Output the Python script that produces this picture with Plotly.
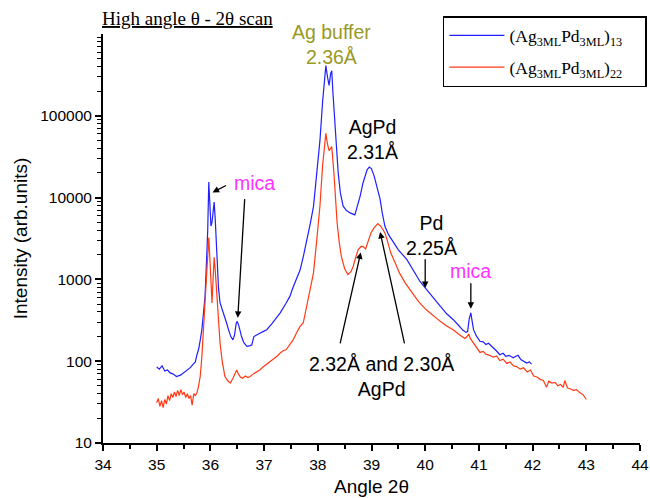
import math
import plotly.graph_objects as go

# ---- data ----
blue_x = [35.00, 35.05, 35.10, 35.15, 35.20, 35.25, 35.30, 35.37, 35.45, 35.52, 35.57, 35.63, 35.68,
          35.72, 35.75, 35.78, 35.81, 35.84, 35.87, 35.90, 35.93, 35.95, 35.97, 35.99, 36.01, 36.03,
          36.05, 36.07, 36.09, 36.12, 36.15, 36.18, 36.21, 36.24, 36.27, 36.30, 36.34, 36.38, 36.42,
          36.45, 36.48, 36.50, 36.53, 36.56, 36.58, 36.62, 36.68, 36.74, 36.77, 36.81, 36.86, 36.92,
          36.98, 37.05, 37.15, 37.30, 37.40, 37.48, 37.54, 37.60, 37.67, 37.73, 37.80, 37.86, 37.92,
          37.98, 38.04, 38.09, 38.13, 38.15, 38.18, 38.21, 38.24, 38.26, 38.28, 38.32, 38.35, 38.38,
          38.42, 38.47, 38.53, 38.60, 38.69, 38.74, 38.79, 38.84, 38.88, 38.92, 38.96, 39.00, 39.05,
          39.10, 39.16, 39.20, 39.25, 39.32, 39.41, 39.50, 39.66, 39.80, 39.90, 40.00, 40.10, 40.20,
          40.28, 40.40, 40.52, 40.62, 40.70, 40.76, 40.79, 40.82, 40.85, 40.87, 40.90, 40.95, 41.02,
          41.08, 41.13, 41.18, 41.22, 41.27, 41.32, 41.39, 41.45, 41.50, 41.56, 41.64, 41.69, 41.73,
          41.78, 41.84, 41.89, 41.94, 41.98]
blue_y = [85, 80, 88, 76, 78, 72, 70, 65, 68, 74, 78, 84, 92,
          98, 120, 140, 180, 240, 380, 620, 1800, 4000, 15500, 9000, 4500, 5000,
          7500, 8800, 5500, 1600, 800, 515, 440, 405, 340, 295, 240, 200, 182,
          210, 290, 307, 270, 220, 200, 170, 152, 155, 158, 200, 210, 220,
          230, 243, 290, 390, 500, 620, 800, 1000, 1300, 1900, 3000, 4800, 7800,
          18000, 50000, 150000, 350000, 410000, 300000, 235000, 330000, 355000, 200000, 83000, 40000, 20000,
          11500, 7900, 7000, 6500, 6150, 8000, 10500, 15000, 18300, 22000, 23600, 22500, 18300,
          13500, 9600, 6500, 4450, 3500, 2800, 2300, 1740, 1250, 950, 790, 650, 540,
          470, 380, 324, 275, 240, 225, 230, 330, 390, 320, 243, 205, 175,
          172, 160, 166, 155, 145, 135, 120, 125, 115, 118, 110, 115, 118,
          105, 100, 95, 98, 92]

red_x = [35.00, 35.03, 35.06, 35.09, 35.12, 35.15, 35.18, 35.21, 35.24, 35.27, 35.30, 35.33, 35.36,
         35.39, 35.42, 35.45, 35.48, 35.51, 35.54, 35.57, 35.60, 35.63, 35.66, 35.69, 35.72, 35.75,
         35.78, 35.81, 35.84, 35.87, 35.90, 35.92, 35.95, 35.97, 35.99, 36.01, 36.03, 36.05, 36.07,
         36.09, 36.12, 36.15, 36.18, 36.22, 36.27, 36.32, 36.37, 36.42, 36.46, 36.49, 36.52, 36.56,
         36.60, 36.65, 36.70, 36.74, 36.80, 36.86, 36.92, 36.98, 37.05, 37.12, 37.17, 37.24, 37.30,
         37.36, 37.41, 37.48, 37.54, 37.60, 37.67, 37.73, 37.80, 37.86, 37.92, 37.98, 38.04, 38.09,
         38.13, 38.15, 38.18, 38.21, 38.24, 38.26, 38.30, 38.33, 38.36, 38.40, 38.44, 38.50, 38.56,
         38.62, 38.66, 38.71, 38.75, 38.81, 38.85, 38.89, 38.94, 38.99, 39.05, 39.12, 39.18, 39.25,
         39.30, 39.36, 39.44, 39.52, 39.63, 39.76, 39.88, 40.02, 40.15, 40.28, 40.40, 40.52, 40.62,
         40.74, 40.78, 40.81, 40.84, 40.90, 40.96, 41.02, 41.08, 41.13, 41.20, 41.27, 41.33, 41.39,
         41.45, 41.52, 41.58, 41.64, 41.70, 41.77, 41.83, 41.90, 41.96, 42.02, 42.08, 42.14, 42.20,
         42.26, 42.30, 42.36, 42.42, 42.47, 42.52, 42.57, 42.60, 42.65, 42.70, 42.76, 42.82, 42.88,
         42.94, 43.00]
red_y = [31, 35, 28, 33, 27, 34, 30, 38, 33, 40, 36, 42, 37,
         44, 38, 45, 39, 42, 36, 40, 35, 38, 29, 40, 38, 41,
         50, 65, 110, 243, 500, 1000, 2000, 3250, 1800, 700, 515, 1000, 1860,
         1300, 620, 300, 166, 100, 65, 58, 54, 62, 72, 78, 70, 64,
         62, 66, 63, 65, 70, 74, 78, 85, 92, 98, 104, 115, 126,
         135, 138, 160, 182, 220, 266, 295, 500, 800, 1200, 3000, 7900, 25000,
         50000, 61000, 45000, 37500, 40000, 42000, 20000, 8000, 4900, 2800, 1900, 1350, 1150,
         1250, 1450, 1900, 2300, 2540, 2500, 2360, 2900, 3700, 4300, 4800, 4400, 3700,
         2900, 2100, 1600, 1200, 900, 680, 530, 425, 360, 307, 270, 243, 215,
         190, 200, 215, 190, 166, 150, 128, 132, 122, 118, 112, 116, 102,
         106, 94, 98, 88, 86, 80, 83, 74, 78, 66, 64, 60, 58,
         48, 57, 54, 55, 50, 52, 48, 58, 47, 46, 44, 45, 41,
         39, 34]

blue_name = "(Ag<sub>3ML</sub>Pd<sub>3ML</sub>)<sub>13</sub>\u00a0\u00a0\u00a0\u00a0"
red_name = "(Ag<sub>3ML</sub>Pd<sub>3ML</sub>)<sub>22</sub>\u00a0\u00a0\u00a0\u00a0"

x_ticks = list(range(34, 45))
y_ticks = [10, 100, 1000, 10000, 100000]
y_tick_text = ["10", "100", "1000", "10000", "100000"]
y_minor = [m * 10 ** k for k in range(1, 6) for m in range(2, 10)]

SANS = "Liberation Sans, Arial, sans-serif"
SERIF = "Liberation Serif, Times New Roman, serif"

fig = go.Figure()
fig.add_trace(go.Scatter(x=blue_x, y=blue_y, mode="lines", name=blue_name, legendgroup="a",
                         line=dict(color="#1f1fff", width=1.2)))
fig.add_trace(go.Scatter(x=red_x, y=red_y, mode="lines", name=red_name, legendgroup="b",
                         line=dict(color="#ff3a14", width=1.2)))

ann = []
def txt(x, ly, text, color, ref="y"):
    ann.append(dict(x=x, y=ly, xref="x", yref=ref, text=text, showarrow=False,
                    font=dict(family=SANS, size=19.5, color=color),
                    xanchor="center", yanchor="middle", align="center"))

txt(38.25, 5.875, "Ag buffer<br>2.36Å", "#999926")
txt(36.82, 4.18, "mica", "#ff33ff")
txt(39.02, 4.71, "AgPd<br>2.31Å", "black")
txt(40.12, 3.54, "Pd<br>2.25Å", "black")
txt(40.85, 3.10, "mica", "#ff33ff")
txt(39.19, 1.81, "2.32Å and 2.30Å<br>AgPd", "black")

# arrows: (head x, head log y, tail x, tail log y)
arrows = [(36.04, 4.063, 36.32, 4.158),
          (36.51, 2.53, 36.64, 4.0),
          (40.0, 2.895, 40.0, 3.265),
          (40.85, 2.64, 40.85, 2.97),
          (38.80, 3.33, 38.41, 2.20),
          (39.16, 3.58, 39.62, 2.20)]
for hx, hy, tx, ty in arrows:
    ann.append(dict(x=hx, y=hy, ax=tx, ay=ty, xref="x", yref="y", axref="x", ayref="y",
                    showarrow=True, arrowhead=2, arrowsize=1, arrowwidth=1.3,
                    arrowcolor="black", text="", standoff=0, startstandoff=0))

ann.append(dict(x=-0.006, y=1.039, xref="paper", yref="paper",
                text="<u>High angle θ - 2θ scan</u>", showarrow=False,
                font=dict(family=SERIF, size=19, color="black"),
                xanchor="left", yanchor="middle"))

fig.update_layout(
    template="simple_white",
    width=650, height=498,
    margin=dict(l=103, r=10, t=34, b=55, autoexpand=False),
    paper_bgcolor="white", plot_bgcolor="white",
    annotations=ann,
    showlegend=True,
    legend=dict(x=0.633, y=1.044, xanchor="left", yanchor="top",
                bgcolor="white", bordercolor="black", borderwidth=1.5,
                font=dict(family=SERIF, size=17.5, color="black"),
                traceorder="grouped", tracegroupgap=6, itemwidth=55),
    xaxis=dict(range=[34, 44], tickvals=x_ticks, showgrid=False, zeroline=False, automargin=False,
               showline=True, linecolor="black", linewidth=2, mirror=False,
               ticks="outside", ticklen=6, tickwidth=1.5, tickcolor="black",
               tickfont=dict(family=SANS, size=15.5, color="black"),
               minor=dict(dtick=0.5, ticks="outside", ticklen=4, tickwidth=1.5, tickcolor="black"),
               title=dict(text="Angle 2θ", font=dict(family=SANS, size=19, color="black"), standoff=8)),
    yaxis=dict(type="log", range=[1, 6], tickvals=y_ticks, ticktext=y_tick_text,
               showgrid=False, zeroline=False, automargin=False,
               showline=True, linecolor="black", linewidth=2, mirror=False,
               ticks="outside", ticklen=6, tickwidth=1.5, tickcolor="black",
               tickfont=dict(family=SANS, size=15.5, color="black"),
               minor=dict(tickmode="array", tickvals=y_minor, ticks="outside", ticklen=4,
                          tickwidth=1.2, tickcolor="black"),
               title=dict(text="Intensity (arb.units)", font=dict(family=SANS, size=19, color="black"),
                          standoff=8)),
)

fig.write_html("out.html", config={"displayModeBar": False},
               post_script="document.body.style.margin='0';")
